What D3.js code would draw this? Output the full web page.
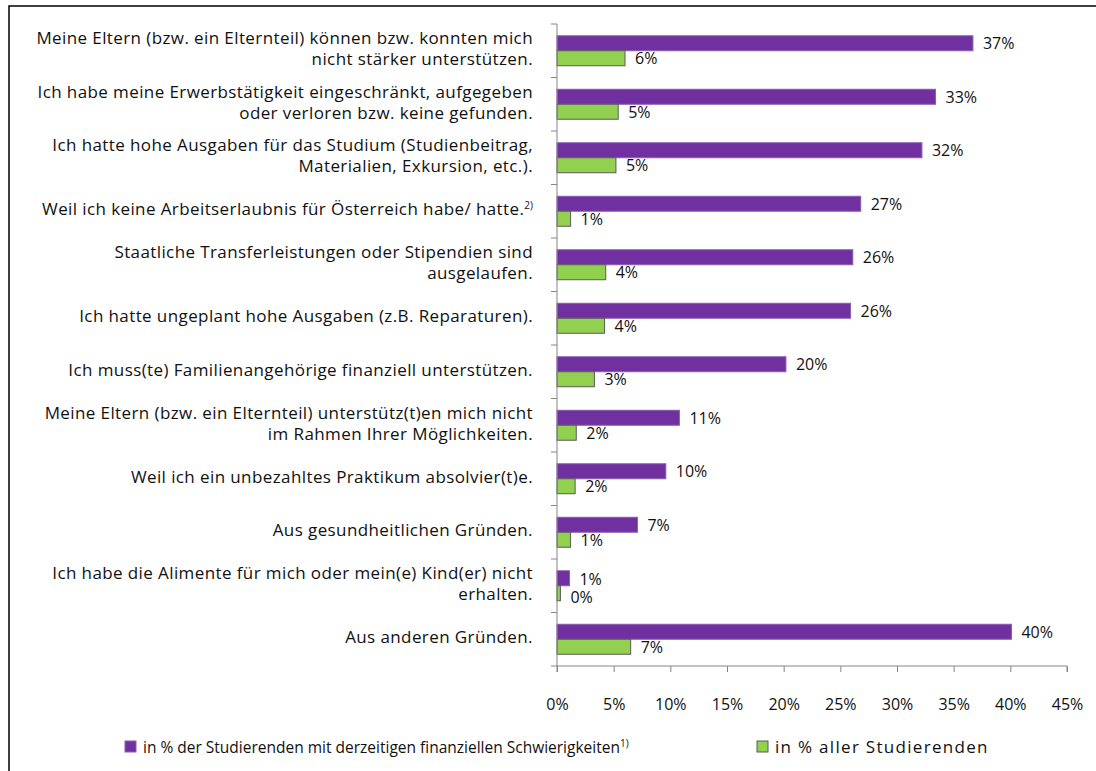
<!DOCTYPE html>
<html>
<head>
<meta charset="utf-8">
<script src="https://cdn.jsdelivr.net/npm/d3@7"></script>
<style>
  body { margin: 0; background: #fff; }
  svg text { font-family: "Open Sans", "Noto Sans", sans-serif; fill: #111; }
</style>
</head>
<body>
<svg id="chart" width="1096" height="771"></svg>
<script>
// categories (each entry = lines of the label, "^" marks a superscript part)
const categories = [
    ["Meine Eltern (bzw. ein Elternteil) können bzw. konnten mich", "nicht stärker unterstützen."],
    ["Ich habe meine Erwerbstätigkeit eingeschränkt, aufgegeben", "oder verloren bzw. keine gefunden."],
    ["Ich hatte hohe Ausgaben für das Studium (Studienbeitrag,", "Materialien, Exkursion, etc.)."],
    ["Weil ich keine Arbeitserlaubnis für Österreich habe/ hatte.^2)"],
    ["Staatliche Transferleistungen oder Stipendien sind", "ausgelaufen."],
    ["Ich hatte ungeplant hohe Ausgaben (z.B. Reparaturen)."],
    ["Ich muss(te) Familienangehörige finanziell unterstützen."],
    ["Meine Eltern (bzw. ein Elternteil) unterstütz(t)en mich nicht", "im Rahmen Ihrer Möglichkeiten."],
    ["Weil ich ein unbezahltes Praktikum absolvier(t)e."],
    ["Aus gesundheitlichen Gründen."],
    ["Ich habe die Alimente für mich oder mein(e) Kind(er) nicht", "erhalten."],
    ["Aus anderen Gründen."]
];
const withDifficulties = [36.7, 33.4, 32.2, 26.8, 26.1, 25.9, 20.2, 10.8, 9.6, 7.1, 1.1, 40.1];
const allStudents = [6.0, 5.4, 5.2, 1.2, 4.3, 4.2, 3.3, 1.7, 1.6, 1.2, 0.3, 6.5];
const seriesNames = ["in %  der Studierenden mit derzeitigen finanziellen Schwierigkeiten^1)", "in % aller Studierenden"];
const tickValues = [0, 5, 10, 15, 20, 25, 30, 35, 40, 45];

const colors = ["#7030A0", "#92D050"];
const strokes = ["#8a5cb0", "#5a5a5a"];

const svg = d3.select("#chart");

// outer frame
svg.append("rect")
    .attr("x", 9).attr("y", 6)
    .attr("width", 1100).attr("height", 800)
    .attr("fill", "none").attr("stroke", "#000").attr("stroke-width", 1.5);

const plotLeft = 557, plotRight = 1067, plotTop = 24, plotBottom = 666;
const labelSize = 17, labelSpacing = 0.4;

let x = d3.scaleLinear().domain([0, 45]).range([plotLeft, plotRight]);
let y = d3.scaleBand().domain(d3.range(categories.length)).range([plotTop, plotBottom]);
let inner = d3.scaleBand().domain([0, 1]).range([y.bandwidth() * 0.22, y.bandwidth() * 0.78]);

let rows = categories.map((c, i) => ({ i, label: c, vals: [withDifficulties[i], allStudents[i]] }));

// text with optional superscript (after "^")
let writeText = (sel, str, supSize) => {
    let parts = str.split("^");
    sel.append("tspan").text(parts[0]);
    if (parts.length > 1) {
        sel.append("tspan")
            .attr("font-size", supSize)
            .attr("letter-spacing", 0)
            .attr("dy", -6)
            .text(parts[1]);
    }
};

// bars
for (let row of rows) {
    for (let s = 0; s < 2; s++) {
        let v = row.vals[s];
        let by = y(row.i) + inner(s);
        svg.append("rect")
            .attr("x", x(0))
            .attr("y", by)
            .attr("width", x(v) - x(0))
            .attr("height", inner.bandwidth())
            .attr("fill", colors[s])
            .attr("stroke", strokes[s])
            .attr("stroke-width", 1);
        svg.append("text")
            .attr("x", x(v) + 10)
            .attr("y", by + inner.bandwidth() / 2 + (row.i == 10 ? (s == 0 ? 1 : 4) : 0))
            .attr("dy", "0.36em")
            .attr("font-size", 16)
            .text(d3.format(".0f")(v) + "%");
    }

    // category label
    let lineH = 21;
    let n = row.label.length;
    let cy = y(row.i) + y.bandwidth() / 2 - 2;
    row.label.forEach((ln, k) => {
        let t = svg.append("text")
            .attr("x", 533)
            .attr("y", cy + (k - (n - 1) / 2) * lineH)
            .attr("dy", "0.36em")
            .attr("text-anchor", "end")
            .attr("letter-spacing", labelSpacing)
            .attr("font-size", labelSize);
        writeText(t, ln, 10);
    });
}

// axes
let axisColor = "#868686";
let xAxis = svg.append("g")
    .attr("transform", `translate(0,${plotBottom})`)
    .call(d3.axisBottom(x).tickValues(tickValues).tickSize(6).tickPadding(27).tickFormat(d => d + "%"));
xAxis.select(".domain").attr("stroke", axisColor).attr("d", `M${plotLeft},6V0H${plotRight}V6`);
xAxis.selectAll(".tick line").attr("stroke", axisColor);
xAxis.selectAll(".tick text")
    .attr("font-size", 16)
    .attr("font-family", "'Open Sans', sans-serif")
    .attr("fill", "#111");

let yAxis = svg.append("g").attr("transform", `translate(${plotLeft},0)`);
yAxis.append("line")
    .attr("x1", 0).attr("x2", 0).attr("y1", plotTop).attr("y2", plotBottom)
    .attr("stroke", axisColor);
yAxis.selectAll("line.tk")
    .data(d3.range(categories.length + 1))
    .join("line")
    .attr("class", "tk")
    .attr("x1", -6).attr("x2", 0)
    .attr("y1", d => plotTop + d * y.step())
    .attr("y2", d => plotTop + d * y.step())
    .attr("stroke", axisColor);

// legend
let legendX = [125, 757];
seriesNames.forEach((name, s) => {
    svg.append("rect")
        .attr("x", legendX[s]).attr("y", 741)
        .attr("width", 11).attr("height", 11)
        .attr("fill", colors[s])
        .attr("stroke", strokes[s]);
    let t = svg.append("text")
        .attr("x", legendX[s] + 18)
        .attr("y", 747)
        .attr("dy", "0.36em")
        .attr("letter-spacing", s == 0 ? 0 : 1.3)
        .attr("font-size", s == 0 ? 15.5 : 17);
    writeText(t, name, 10);
});
</script>
</body>
</html>
